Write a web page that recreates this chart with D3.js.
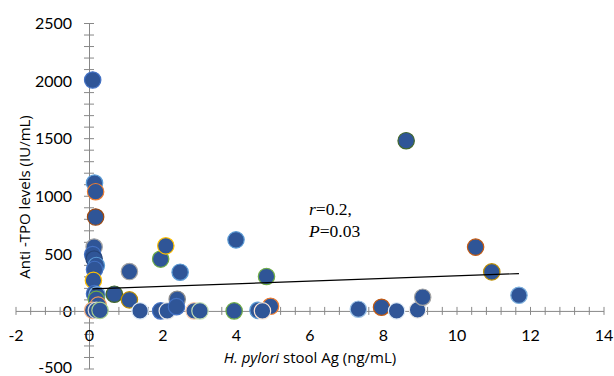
<!DOCTYPE html>
<html>
<head>
<meta charset="utf-8">
<script src="https://cdn.jsdelivr.net/npm/d3@7/dist/d3.min.js"></script>
<style>
  html, body { margin: 0; padding: 0; background: #fff; }
  svg { display: block; }
</style>
</head>
<body>
<svg id="chart" width="614" height="376"></svg>
<script>
// ---- data ----
const stoolAg = [0.10, 0.15, 0.18, 0.18, 0.14, 0.10, 0.14, 0.20, 0.15, 0.12, 0.15, 0.22, 0.20, 0.25, 0.10, 0.20, 0.30,
                 0.69, 1.10, 1.10, 1.39, 1.95, 2.09, 2.48, 2.40, 1.95, 2.13, 2.38, 2.86, 3.02, 3.95,
                 4.00, 4.83, 4.94, 4.60, 4.72,
                 7.33, 7.96, 8.37, 8.94, 9.08, 8.63, 10.52, 10.96, 11.70];
const antiTPO = [2005, 1110, 1035, 815, 555, 490, 450, 395, 360, 265, 150, 140, 100, 50, 5, 5, 5,
                 145, 342, 96, 0, 450, 565, 336, 101, 0, 0, 37, 0, 0, 0,
                 617, 299, 40, 5, 0,
                 15, 32, 0, 9, 119, 1478, 554, 339, 136];
const xTickLabels = [-2, 0, 2, 4, 6, 8, 10, 12, 14];
const yTickLabels = [-500, 0, 500, 1000, 1500, 2000, 2500];
const trendX = [0.09, 11.70];
const trendY = [191, 324];

// ---- styles ----
const fillColor = "#2F5597";
const outlineColors = ["#4472C4", "#5B9BD5", "#ED7D31", "#9E480E", "#A5A5A5", "#4472C4", "#264478", "#5B9BD5", "#4472C4",
                       "#FFC000", "#4472C4", "#7CAFDD", "#70AD47", "#F1975A", "#F4B183", "#D9D9D9", "#A9D18E",
                       "#43682B", "#A5A5A5", "#BF9000", "#DEEBF7", "#70AD47", "#FFC000", "#5B9BD5", "#8C8C8C", "#4472C4",
                       "#E7E6E6", "#4472C4", "#F8CBAD", "#C5E0B4", "#70AD47",
                       "#5B9BD5", "#70AD47", "#ED7D31", "#5B9BD5", "#FBE5D6",
                       "#9DC3E6", "#C55A11", "#DEEBF7", "#E7E6E6", "#A5A5A5", "#43682B", "#C55A11", "#BF9000", "#7CAFDD"];
const axisColor = "#888888";
const tickFont = "Lato, 'Open Sans', sans-serif";
const titleFont = "'Open Sans', 'Noto Sans', sans-serif";

const svg = d3.select("#chart");
const x = d3.scaleLinear().domain([-2, 14]).range([15.5, 603.5]);
const y = d3.scaleLinear().domain([-500, 2500]).range([368.5, 23]);

// ---- y axis ----
const yMinor = d3.range(-500, 2501, 100);
const yAxis = d3.axisLeft(y).tickValues(yMinor).tickSize(0)
  .tickFormat(d => (yTickLabels.includes(d) ? d : ""));
const gy = svg.append("g").attr("transform", `translate(${x(0)},0)`).call(yAxis);
gy.select(".domain").attr("stroke", axisColor).attr("stroke-width", 1);
gy.selectAll(".tick").append("line").attr("x1", -5).attr("x2", 5).attr("stroke", axisColor);
gy.selectAll(".tick text").attr("x", -17).attr("dy", d => (d === -500 ? "0.25em" : "0.36em"))
  .style("font-family", tickFont).style("font-size", "16px").attr("fill", "#000");

// ---- x axis ----
const xMinor = d3.range(-2, 14.001, 0.4).map(v => Math.round(v * 10) / 10);
const xAxis = d3.axisBottom(x).tickValues(xMinor).tickSize(0)
  .tickFormat(d => (xTickLabels.includes(d) ? d : ""));
const gx = svg.append("g").attr("transform", `translate(0,${y(0)})`).call(xAxis);
gx.select(".domain").attr("stroke", axisColor).attr("stroke-width", 1);
gx.selectAll(".tick").append("line").attr("y1", -4).attr("y2", 4).attr("stroke", axisColor);
gx.selectAll(".tick text").attr("y", 24).attr("dy", "0.36em")
  .style("font-family", tickFont).style("font-size", "16px").attr("fill", "#000");

// ---- points ----
const pts = stoolAg.map((v, i) => ({ x: v, y: antiTPO[i], c: outlineColors[i % outlineColors.length] }));
svg.append("g").selectAll("circle").data(pts).join("circle")
  .attr("cx", d => x(d.x)).attr("cy", d => y(d.y)).attr("r", 8.2)
  .attr("fill", fillColor).attr("stroke", d => d.c).attr("stroke-width", 1.2);

// ---- trend line ----
svg.append("line")
  .attr("x1", x(trendX[0])).attr("y1", y(trendY[0]))
  .attr("x2", x(trendX[1])).attr("y2", y(trendY[1]))
  .attr("stroke", "#000").attr("stroke-width", 1.2);

// ---- annotation ----
const ann = svg.append("g").style("font-family", "'Liberation Serif', 'Times New Roman', serif").style("font-size", "17.5px");
const t1 = ann.append("text").attr("x", 309).attr("y", 215);
t1.append("tspan").style("font-style", "italic").text("r");
t1.append("tspan").text("=0.2,");
const t2 = ann.append("text").attr("x", 309).attr("y", 237);
t2.append("tspan").style("font-style", "italic").text("P");
t2.append("tspan").text("=0.03");

// ---- axis titles ----
const xt = svg.append("text").attr("x", 310).attr("y", 358).attr("dy", "0.36em").attr("text-anchor", "middle")
  .style("font-family", titleFont).style("font-size", "15px");
xt.append("tspan").style("font-style", "italic").text("H. pylori");
xt.append("tspan").text(" stool Ag (ng/mL)");

svg.append("text").attr("transform", `translate(25,197) rotate(-90)`).attr("dy", "0.36em").attr("text-anchor", "middle")
  .style("font-family", titleFont).style("font-size", "15px").text("Anti -TPO levels (IU/mL)");
</script>
</body>
</html>
